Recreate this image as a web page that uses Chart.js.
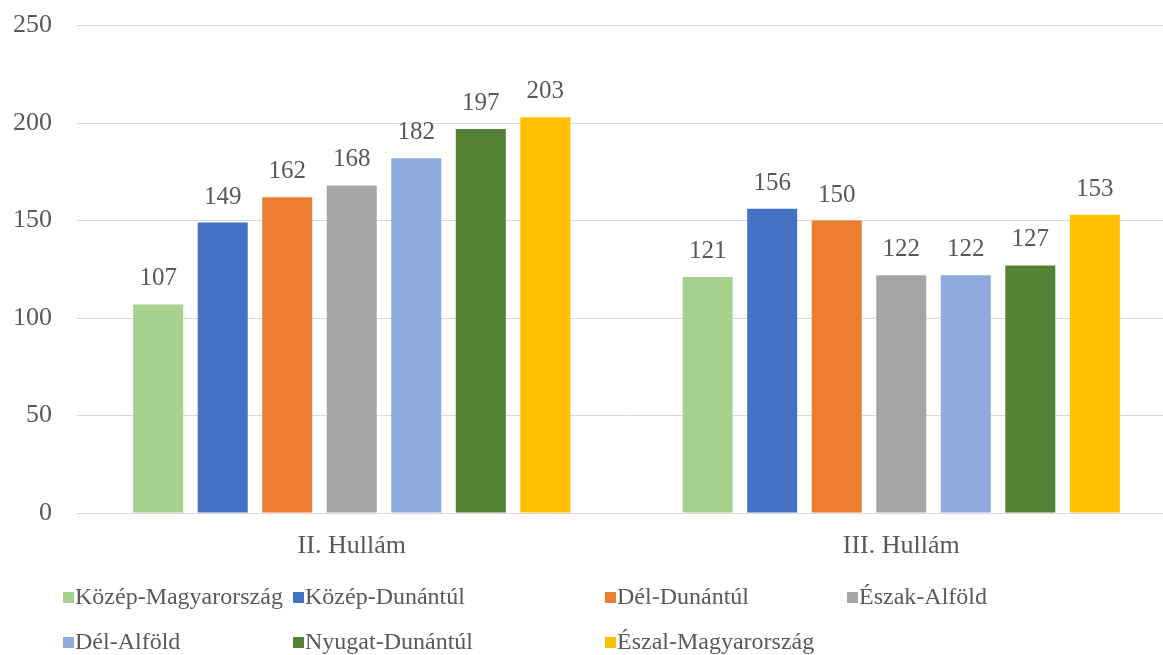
<!DOCTYPE html>
<html>
<head>
<meta charset="utf-8">
<title>Hullámok</title>
<script src="https://cdn.jsdelivr.net/npm/chart.js@4.4.1/dist/chart.umd.min.js"></script>
<style>
    html, body {
        margin: 0;
        padding: 0;
        background: #fff;
        overflow: hidden;
        width: 1163px;
        height: 655px;
    }
    .chart-box {
        position: absolute;
        left: 0;
        top: -15px;
        width: 1176px;
        height: 590px;
    }
    .legend-box {
        position: absolute;
        left: 0;
        top: 0;
        width: 1163px;
        height: 655px;
        pointer-events: none;
    }
    .legend-item {
        position: absolute;
        height: 30px;
        line-height: 30px;
        font-family: "Liberation Serif", "Times New Roman", serif;
        font-size: 24px;
        color: #595959;
        white-space: nowrap;
    }
    .legend-item .swatch {
        display: inline-block;
        width: 11px;
        height: 11px;
        margin-right: 1px;
        vertical-align: 1px;
    }
</style>
</head>
<body>
<div class="chart-box"><canvas id="wave_chart"></canvas></div>
<div class="legend-box" id="wave_legend"></div>
<script>
const categories = ["II. Hullám", "III. Hullám"];

const series_names = [
    "Közép-Magyarország",
    "Közép-Dunántúl",
    "Dél-Dunántúl",
    "Észak-Alföld",
    "Dél-Alföld",
    "Nyugat-Dunántúl",
    "Észal-Magyarország",
];

const series_colors = ["#A9D18E", "#4472C4", "#ED7D31", "#A5A5A5", "#8FAADC", "#548235", "#FFC000"];

// values per region: [II. Hullám, III. Hullám]
const kozep_magyarorszag = [107, 121];
const kozep_dunantul = [149, 156];
const del_dunantul = [162, 150];
const eszak_alfold = [168, 122];
const del_alfold = [182, 122];
const nyugat_dunantul = [197, 127];
const eszal_magyarorszag = [203, 153];

const y_ticks = [0, 50, 100, 150, 200, 250];

const series_values = [
    kozep_magyarorszag,
    kozep_dunantul,
    del_dunantul,
    eszak_alfold,
    del_alfold,
    nyugat_dunantul,
    eszal_magyarorszag,
];

const FONT = "Liberation Serif";
const TEXT_COLOR = "#595959";

Chart.defaults.font.family = FONT;
Chart.defaults.color = TEXT_COLOR;

// value labels above the bars
const barValueLabels = {
    id: "barValueLabels",
    afterDatasetsDraw(chart) {
        const ctx = chart.ctx;
        ctx.save();
        ctx.font = `25px "${FONT}"`;
        ctx.fillStyle = TEXT_COLOR;
        ctx.textAlign = "center";
        ctx.textBaseline = "alphabetic";
        chart.data.datasets.forEach((dataset, i) => {
            chart.getDatasetMeta(i).data.forEach((bar, j) => {
                ctx.fillText(dataset.data[j], bar.x, bar.y - 19);
            });
        });
        ctx.restore();
    },
};

const renderChart = () => {
    const ctx = document.querySelector("#wave_chart");

    new Chart(ctx, {
        type: "bar",
        data: {
            labels: categories,
            datasets: series_names.map((name, i) => ({
                label: name,
                data: series_values[i],
                backgroundColor: series_colors[i],
                borderWidth: 0,
                categoryPercentage: 0.822,
                barPercentage: 0.775,
            })),
        },
        options: {
            responsive: true,
            maintainAspectRatio: false,
            animation: false,
            layout: {
                padding: { top: 12, left: 13, right: 0, bottom: 16 },
            },
            scales: {
                x: {
                    grid: { display: false },
                    border: { display: false },
                    ticks: {
                        padding: 10,
                        font: { size: 26 },
                        color: TEXT_COLOR,
                    },
                    afterFit: (axis) => {
                        axis.height = 46;
                    },
                },
                y: {
                    min: 0,
                    max: 250,
                    afterBuildTicks: (axis) => {
                        axis.ticks = y_ticks.map((v) => ({ value: v }));
                    },
                    afterFit: (axis) => {
                        axis.width = 64;
                    },
                    grid: {
                        color: "#D9D9D9",
                        lineWidth: 1,
                        drawTicks: false,
                    },
                    border: { display: false },
                    ticks: {
                        padding: 25,
                        font: { size: 26 },
                        color: TEXT_COLOR,
                    },
                },
            },
            plugins: {
                legend: { display: false },
                tooltip: { enabled: false },
            },
        },
        plugins: [barValueLabels],
    });
};

// legend laid out in columns like the original
const legend_columns = [63, 293, 605, 847];
const legend_rows = [596, 641];

const renderLegend = () => {
    const box = document.querySelector("#wave_legend");
    series_names.forEach((name, i) => {
        const item = document.createElement("div");
        item.className = "legend-item";
        item.style.left = `${legend_columns[i % 4]}px`;
        item.style.top = `${legend_rows[Math.floor(i / 4)] - 15}px`;
        item.innerHTML = `<span class="swatch" style="background:${series_colors[i]}"></span>${name}`;
        box.appendChild(item);
    });
};

renderChart();
renderLegend();
</script>
</body>
</html>
